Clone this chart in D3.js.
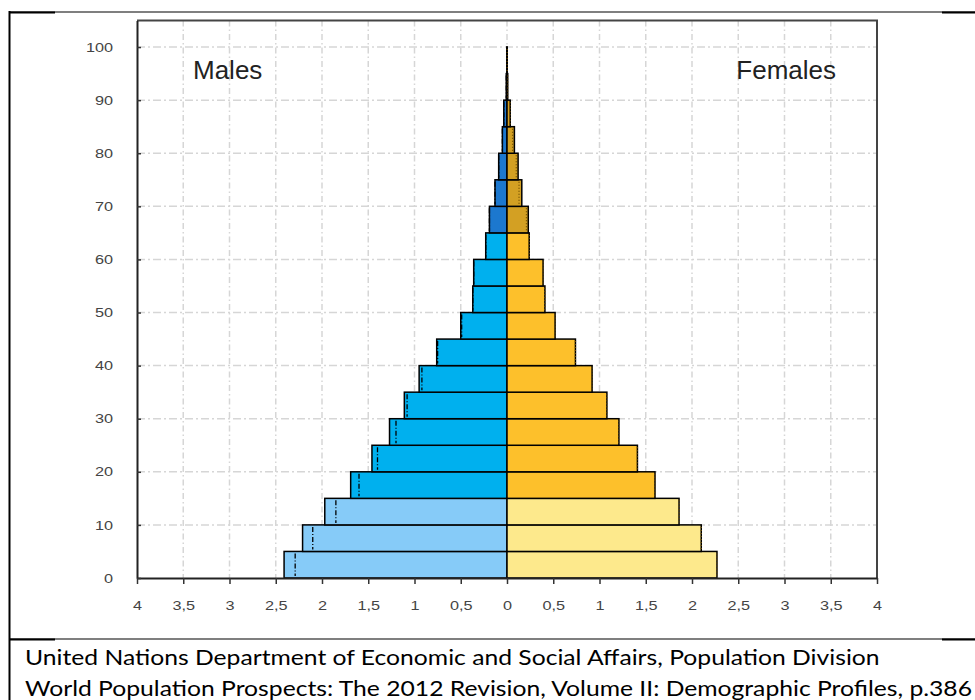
<!DOCTYPE html>
<html lang="en">
  <head>
    <meta charset="utf-8">
    <title>Population pyramid</title>
    <script src="https://d3js.org/d3.v7.min.js"></script>
    <style>
      body { margin: 0; background: #fff; }
      svg text { font-family: "Liberation Sans", Arial, sans-serif; }
      .caption { font-family: Lato, "Open Sans", sans-serif; fill: #000; }
    </style>
  </head>
  <body>
    <script type="text/javascript">
    // Age groups (lower bound of each 5-year band)
    var ageStart = [0, 5, 10, 15, 20, 25, 30, 35, 40, 45, 50, 55, 60, 65, 70, 75, 80, 85, 90, 95];

    // Population share (%)
    var males   = [2.41, 2.21, 1.97, 1.69, 1.46, 1.27, 1.11, 0.95, 0.76, 0.50, 0.37, 0.36, 0.23, 0.19, 0.13, 0.09, 0.05, 0.035, 0.008, 0.002];
    var females = [2.27, 2.10, 1.86, 1.60, 1.41, 1.21, 1.08, 0.92, 0.74, 0.52, 0.41, 0.39, 0.24, 0.23, 0.16, 0.12, 0.08, 0.035, 0.008, 0.002];

    // Dash-dot comparison markers inside the bars
    var maleMarks   = [2.29, 2.10, 1.85, 1.60, 1.40, 1.20, 1.08, 0.92, 0.75, 0.49, 0.37, 0.36, 0.23, 0.19, 0.13, 0.09, 0.05, 0.035, 0.008, 0.002];
    var femaleMarks = [2.27, 2.10, 1.86, 1.60, 1.41, 1.21, 1.08, 0.92, 0.74, 0.52, 0.41, 0.39, 0.24, 0.21, 0.13, 0.10, 0.06, 0.035, 0.008, 0.002];

    var xTicks = [-4, -3.5, -3, -2.5, -2, -1.5, -1, -0.5, 0, 0.5, 1, 1.5, 2, 2.5, 3, 3.5, 4];
    var yTicks = [0, 10, 20, 30, 40, 50, 60, 70, 80, 90, 100];

    var captionLines = [
      "United Nations Department of Economic and Social Affairs, Population Division",
      "World Population Prospects: The 2012 Revision, Volume II: Demographic Profiles, p.386"
    ];

    var w = 975, h = 700;

    var svg = d3.select("body").append("svg")
                .attr("width", w)
                .attr("height", h);

    var xScale = d3.scaleLinear().domain([-4, 4]).range([137, 877]);
    var yScale = d3.scaleLinear().domain([0, 105]).range([578, 20.5]);

    // colour by broad age group
    var maleColor = function(a) {
      if (a < 15) return "#86CBF8";
      if (a < 65) return "#00B0EE";
      return "#1C78CF";
    };
    var femaleColor = function(a) {
      if (a < 15) return "#FDE98C";
      if (a < 65) return "#FDC02B";
      return "#D3A023";
    };

    // document table borders
    var border = svg.append("g").attr("stroke", "#000");
    border.append("line").attr("x1", 9).attr("x2", 975).attr("y1", 12).attr("y2", 12).attr("stroke-width", 1.2);
    border.append("line").attr("x1", 9).attr("x2", 55).attr("y1", 12.5).attr("y2", 12.5).attr("stroke-width", 2);
    border.append("line").attr("x1", 942).attr("x2", 975).attr("y1", 12.5).attr("y2", 12.5).attr("stroke-width", 2);
    border.append("line").attr("x1", 9).attr("x2", 975).attr("y1", 639).attr("y2", 639).attr("stroke-width", 1.2);
    border.append("line").attr("x1", 9).attr("x2", 55).attr("y1", 639.5).attr("y2", 639.5).attr("stroke-width", 2);
    border.append("line").attr("x1", 942).attr("x2", 975).attr("y1", 639.5).attr("y2", 639.5).attr("stroke-width", 2);
    border.append("line").attr("x1", 9.5).attr("x2", 9.5).attr("y1", 11).attr("y2", 700).attr("stroke-width", 2);

    // grid
    var grid = svg.append("g").attr("stroke", "#d6d6d6").attr("stroke-width", 1.5).attr("fill", "none");
    grid.selectAll("line.v")
        .data(xTicks.filter(function(d) { return d > -4 && d < 4; }))
        .enter().append("line")
        .attr("class", "v")
        .attr("x1", function(d) { return xScale(d); })
        .attr("x2", function(d) { return xScale(d); })
        .attr("y1", yScale(105))
        .attr("y2", yScale(0))
        .attr("stroke-dasharray", "6,3,1.5,3");
    grid.selectAll("line.h")
        .data(yTicks.filter(function(d) { return d > 0; }))
        .enter().append("line")
        .attr("class", "h")
        .attr("x1", xScale(-4))
        .attr("x2", xScale(4))
        .attr("y1", function(d) { return yScale(d); })
        .attr("y2", function(d) { return yScale(d); })
        .attr("stroke-dasharray", "8,3,2,3");

    // male bars
    svg.selectAll("rect.male")
       .data(ageStart)
       .enter().append("rect")
       .attr("class", "male")
       .attr("x", function(d, i) { return xScale(-males[i]); })
       .attr("y", function(d) { return yScale(d + 5); })
       .attr("width", function(d, i) { return xScale(0) - xScale(-males[i]); })
       .attr("height", function(d) { return yScale(d) - yScale(d + 5); })
       .attr("fill", function(d) { return maleColor(d); })
       .attr("stroke", "#000")
       .attr("stroke-width", 1.5);

    // female bars
    svg.selectAll("rect.female")
       .data(ageStart)
       .enter().append("rect")
       .attr("class", "female")
       .attr("x", xScale(0))
       .attr("y", function(d) { return yScale(d + 5); })
       .attr("width", function(d, i) { return xScale(females[i]) - xScale(0); })
       .attr("height", function(d) { return yScale(d) - yScale(d + 5); })
       .attr("fill", function(d) { return femaleColor(d); })
       .attr("stroke", "#000")
       .attr("stroke-width", 1.5);

    // comparison markers
    svg.selectAll("line.mmark")
       .data(ageStart)
       .enter().append("line")
       .attr("class", "mmark")
       .attr("x1", function(d, i) { return xScale(-maleMarks[i]); })
       .attr("x2", function(d, i) { return xScale(-maleMarks[i]); })
       .attr("y1", function(d) { return yScale(d + 5) + 2; })
       .attr("y2", function(d) { return yScale(d) - 2; })
       .attr("stroke", "#000")
       .attr("stroke-width", 1.3)
       .attr("stroke-dasharray", "5,2,1,2");
    svg.selectAll("line.fmark")
       .data(ageStart)
       .enter().append("line")
       .attr("class", "fmark")
       .attr("x1", function(d, i) { return xScale(femaleMarks[i]); })
       .attr("x2", function(d, i) { return xScale(femaleMarks[i]); })
       .attr("y1", function(d) { return yScale(d + 5) + 2; })
       .attr("y2", function(d) { return yScale(d) - 2; })
       .attr("stroke", "#6b4a00")
       .attr("stroke-width", 1.2)
       .attr("stroke-dasharray", "1,2");

    // frame top / right
    svg.append("path")
       .attr("d", "M" + xScale(-4) + "," + yScale(105) + "H" + xScale(4) + "V" + yScale(0))
       .attr("fill", "none")
       .attr("stroke", "#444")
       .attr("stroke-width", 2);

    // axes
    var fmt = function(d) { return String(Math.abs(d)).replace(".", ","); };

    // the tick labels in the picture are stretched horizontally
    var widen = function(sel, k) {
      sel.each(function() {
        var len = this.getComputedTextLength();
        d3.select(this).attr("textLength", len * k).attr("lengthAdjust", "spacingAndGlyphs");
      });
    };

    var xAxis = svg.append("g")
       .attr("transform", "translate(0," + yScale(0) + ")")
       .call(d3.axisBottom(xScale).tickValues(xTicks).tickFormat(fmt).tickSize(6).tickPadding(17).tickSizeOuter(0));
    xAxis.select(".domain").attr("stroke", "#222").attr("stroke-width", 2);
    xAxis.selectAll(".tick line").attr("stroke", "#333").attr("stroke-width", 1.5);
    xAxis.selectAll("text").attr("fill", "#444").style("font-size", "13px").call(widen, 1.25);

    var yAxis = svg.append("g")
       .attr("transform", "translate(" + xScale(-4) + ",0)")
       .call(d3.axisLeft(yScale).tickValues(yTicks).tickSize(-4).tickPadding(24).tickSizeOuter(0));
    yAxis.select(".domain").attr("stroke", "#222").attr("stroke-width", 2);
    yAxis.selectAll(".tick line").attr("stroke", "#333").attr("stroke-width", 1.5);
    yAxis.selectAll("text").attr("fill", "#444").style("font-size", "13px").call(widen, 1.25);

    // Males / Females labels
    svg.append("text")
       .attr("x", 193).attr("y", 79)
       .attr("fill", "#222")
       .style("font-size", "26px")
       .text("Males");
    svg.append("text")
       .attr("x", 836).attr("y", 79)
       .attr("text-anchor", "end")
       .attr("fill", "#222")
       .style("font-size", "26px")
       .text("Females");

    // source caption: both lines share one stretch so the second spans ~947px
    var caps = svg.selectAll("text.caption")
       .data(captionLines)
       .enter().append("text")
       .attr("class", "caption")
       .attr("x", 25)
       .attr("y", function(d, i) { return 665 + i * 31; })
       .style("font-size", "22px")
       .text(function(d) { return d; });
    var k = 947 / caps.nodes()[1].getComputedTextLength();
    caps.call(widen, k);
    </script>
  </body>
</html>
